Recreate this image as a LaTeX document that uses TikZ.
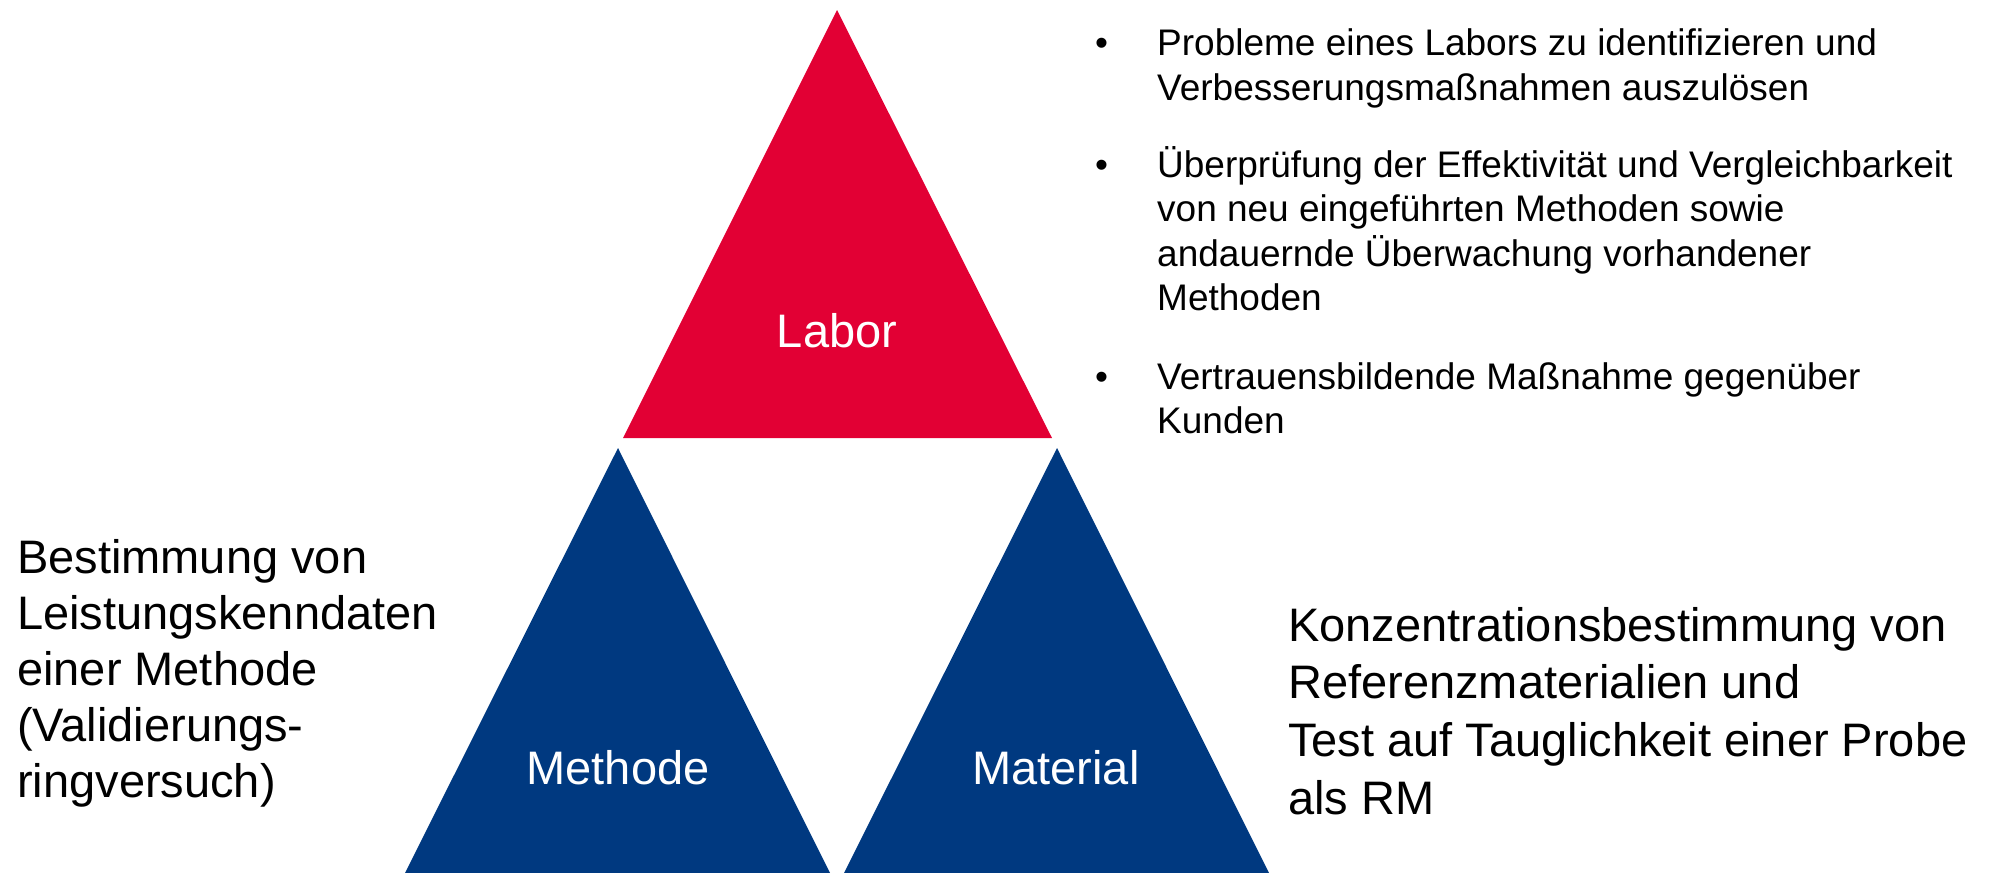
\documentclass[tikz,border=0pt]{standalone}
\usepackage{fontspec}
\setmainfont{Liberation Sans}
\definecolor{labred}{RGB}{226,0,52}
\definecolor{labblue}{RGB}{0,57,128}
% a line of a stacked text block
\newcommand\tline[1]{\hbox{#1}}
\begin{document}
\begin{tikzpicture}[x=1pt,y=-1pt,
  lefttext/.style={font=\fontsize{47}{56}\selectfont, inner sep=0pt, anchor=base west},
  righttext/.style={font=\fontsize{47}{57.8}\selectfont, inner sep=0pt, anchor=base west},
  tritext/.style={font=\fontsize{47}{56}\selectfont, text=white, inner sep=0pt, anchor=base},
  bullettext/.style={font=\fontsize{37}{44.5}\selectfont, inner sep=0pt, anchor=base west},
  bulletmark/.style={font=\fontsize{37}{44.5}\selectfont, inner sep=0pt, anchor=base west}]
\useasboundingbox (0,0) rectangle (1990,873);

% three triangles
\fill[labred]  (837,10)  -- (623,438) -- (1052,438) -- cycle;
\fill[labblue] (618,448) -- (405,873) -- (830,873)  -- cycle;
\fill[labblue] (1057,448) -- (844,873) -- (1269,873) -- cycle;

\node[tritext] (labor)    at (837,347) {Labor};
\node[tritext] (methode)  at (618,784) {Methode};
\node[tritext] (material) at (1056,784) {Material};

% bullet list beside the red triangle
\node[bulletmark] (b1) at (1095,55.5) {•};
\node[bullettext] (t1) at (1157,55.5) {\vtop{\tline{Probleme eines Labors zu identifizieren und}\tline{Verbesserungsmaßnahmen auszulösen}}};
\node[bulletmark] (b2) at (1095,177) {•};
\node[bullettext] (t2) at (1157,177) {\vtop{\tline{Überprüfung der Effektivität und Vergleichbarkeit}\tline{von neu eingeführten Methoden sowie}\tline{andauernde Überwachung vorhandener}\tline{Methoden}}};
\node[bulletmark] (b3) at (1095,389) {•};
\node[bullettext] (t3) at (1157,389) {\vtop{\tline{Vertrauensbildende Maßnahme gegenüber}\tline{Kunden}}};

% side texts
\node[lefttext] (left) at (17,573) {\vtop{\tline{Bestimmung von}\tline{Leistungskenndaten}\tline{einer Methode}\tline{(Validierungs-}\tline{ringversuch)}}};
\node[righttext] (right) at (1288,641) {\vtop{\tline{Konzentrationsbestimmung von}\tline{Referenzmaterialien und}\tline{Test auf Tauglichkeit einer Probe}\tline{als RM}}};
\end{tikzpicture}
\end{document}
